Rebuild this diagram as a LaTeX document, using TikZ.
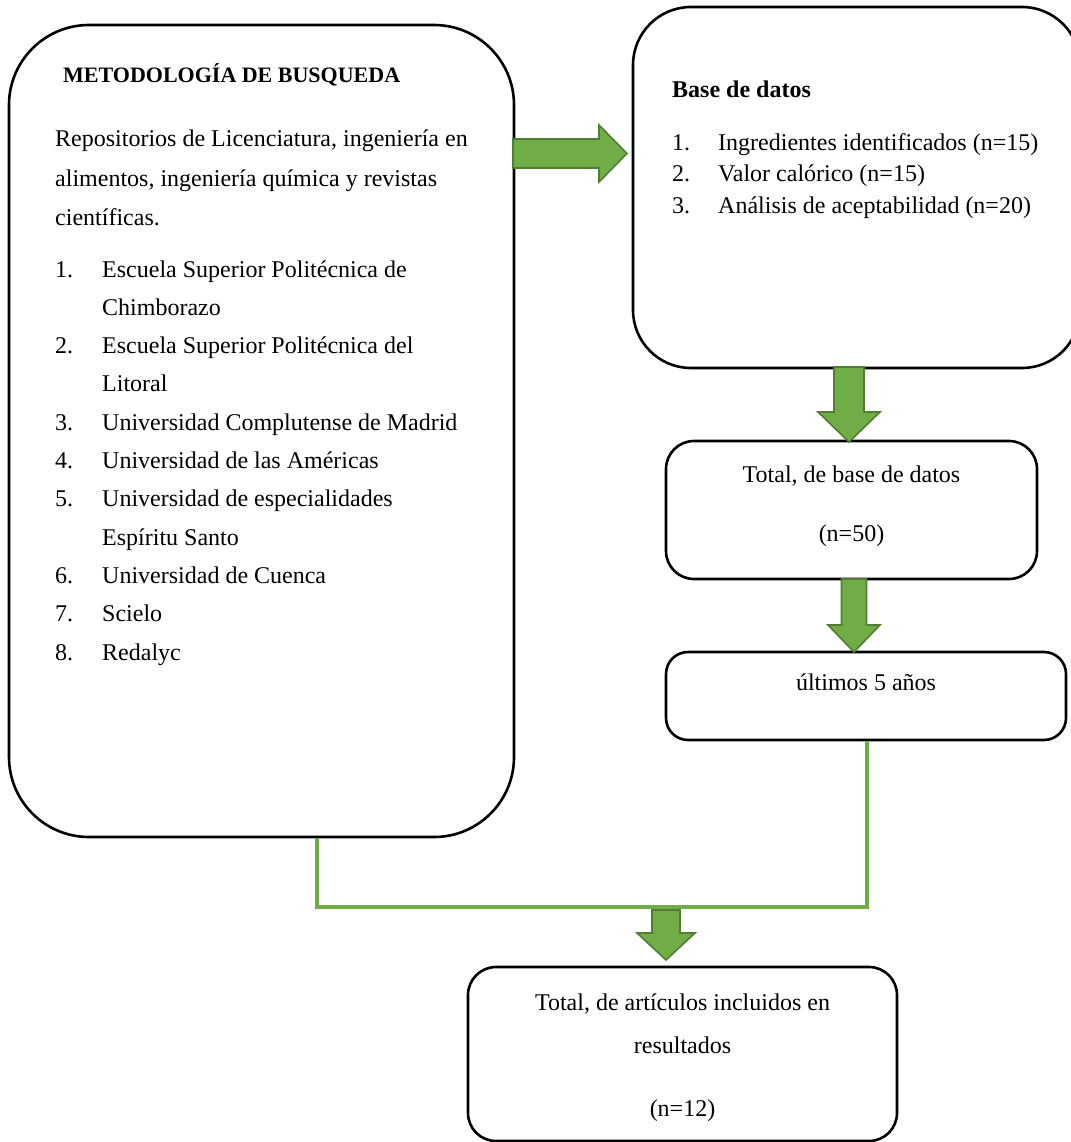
\documentclass[tikz,border=0pt]{standalone}
\usepackage{fontspec}
\setmainfont{Liberation Serif}
\definecolor{gfill}{HTML}{70AD47}
\definecolor{gdraw}{HTML}{507E32}
\begin{document}
\begin{tikzpicture}[x=1pt,y=-1pt,
  box/.style={draw=black, line width=2.6pt, inner sep=0pt},
  txt/.style={font=\fontsize{24}{28}\selectfont, inner sep=0pt, anchor=base west},
  btxt/.style={font=\fontsize{24}{28}\selectfont\bfseries, inner sep=0pt, anchor=base west},
  ctxt/.style={font=\fontsize{24}{28}\selectfont, inner sep=0pt, anchor=base},
  blockarrow/.style={fill=gfill, draw=gdraw, line width=1.6pt, line join=miter},
  conn/.style={draw=gfill, line width=3.5pt}]
\useasboundingbox (0,0) rectangle (1070,1142);
% boxes
\node[box, rounded corners=80pt, minimum width=505pt, minimum height=812pt] (L) at (261.5,431) {};
\node[box, rounded corners=58pt, minimum width=447pt, minimum height=361pt] (R) at (856.5,187.5) {};
\node[box, rounded corners=28pt, minimum width=371pt, minimum height=138pt] (T) at (851.5,510) {};
\node[box, rounded corners=22pt, minimum width=400pt, minimum height=88pt] (U) at (866,696) {};
\node[box, rounded corners=28pt, minimum width=429pt, minimum height=174pt] (B) at (682.5,1054) {};
% block arrows
\draw[blockarrow] (513,139) -- (599,139) -- (599,125) -- (627,153.5) -- (599,182) -- (599,168) -- (513,168) -- cycle;
\newcommand{\blkdown}[6]{\draw[blockarrow] (#1-#4,#2) -- (#1+#4,#2) -- (#1+#4,#3) -- (#1+#5,#3) -- (#1,#6) -- (#1-#5,#3) -- (#1-#4,#3) -- cycle;}
\blkdown{849}{367}{412}{15}{31}{442}
\blkdown{854}{579}{625}{12.5}{26}{652}
\blkdown{666}{910}{933}{14}{29}{960}
% green connectors
\coordinate (cl) at (317,907);
\coordinate (cr) at (867,907);
\draw[conn] (L.south -| cl) -- (cl) -- (cr) -- (U.south -| cr);
% left box text
\node[btxt, font=\fontsize{22}{26}\selectfont\bfseries] (h1) at (63,83) {METODOLOGÍA DE BUSQUEDA};
\node[txt] (p1) at (55,147) {Repositorios de Licenciatura, ingeniería en};
\node[txt] (p2) at (55,186) {alimentos, ingeniería química y revistas};
\node[txt] (p3) at (55,225) {científicas.};
\foreach \k/\n/\t in {0/1./Escuela Superior Politécnica de, 1//Chimborazo, 2/2./Escuela Superior Politécnica del, 3//Litoral, 4/3./Universidad Complutense de Madrid, 5/4./Universidad de las Américas, 6/5./Universidad de especialidades, 7//Espíritu Santo, 8/6./Universidad de Cuenca, 9/7./Scielo, 10/8./Redalyc}{
  \node[txt] (n\k) at (55,277+38.3*\k) {\n};
  \node[txt] (i\k) at (102,277+38.3*\k) {\t};
}
% right box text
\node[btxt] (h2) at (672,98) {Base de datos};
\foreach \k/\n/\t in {0/1./Ingredientes identificados (n=15), 1/2./Valor calórico (n=15), 2/3./Análisis de aceptabilidad (n=20)}{
  \node[txt] (rn\k) at (672,151+31*\k) {\n};
  \node[txt] (ri\k) at (718,151+31*\k) {\t};
}
% other boxes text
\node[ctxt] (t1) at (851.5,482) {Total, de base de datos};
\node[ctxt] (t2) at (851.5,541) {(n=50)};
\node[ctxt] (u1) at (866,690) {últimos 5 años};
\node[ctxt] (b1) at (682.5,1010) {Total, de artículos incluidos en};
\node[ctxt] (b2) at (682.5,1053) {resultados};
\node[ctxt] (b3) at (682.5,1116) {(n=12)};
\end{tikzpicture}
\end{document}
